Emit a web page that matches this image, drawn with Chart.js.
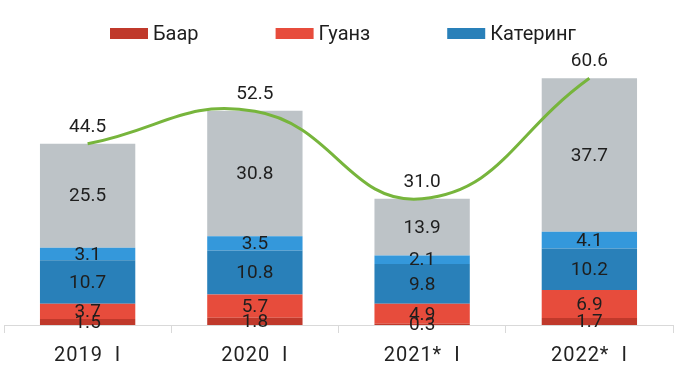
<!DOCTYPE html>
<html>
<head>
<meta charset="utf-8">
<script src="https://cdn.jsdelivr.net/npm/chart.js@4/dist/chart.umd.min.js"></script>
<style>
html,body{margin:0;padding:0;background:#fff;}
#wrap{width:676px;height:368px;position:relative;}
</style>
</head>
<body>
<div id="wrap"><canvas id="c" width="676" height="368"></canvas></div>
<script>
const categories = ["2019  I", "2020  I", "2021*  I", "2022*  I"];
const baar      = [1.5, 1.8, 0.3, 1.7];
const guanz     = [3.7, 5.7, 4.9, 6.9];
const catering  = [10.7, 10.8, 9.8, 10.2];
const otherBlue = [3.1, 3.5, 2.1, 4.1];
const otherGrey = [25.5, 30.8, 13.9, 37.7];
const totals    = [44.5, 52.5, 31.0, 60.6];
const legendNames = ["Баар", "Гуанз", "Катеринг"];

const FONT = "Roboto, 'Noto Sans', sans-serif";

const spacingPlugin = {
  id: 'tickSpacing',
  beforeDraw(chart) { chart.ctx.letterSpacing = '1px'; },
  beforeDatasetsDraw(chart) { chart.ctx.letterSpacing = '0px'; }
};

const labelPlugin = {
  id: 'valueLabels',
  afterDatasetsDraw(chart) {
    const ctx = chart.ctx;
    ctx.save();
    ctx.letterSpacing = '0px';
    ctx.font = "19px " + FONT;
    ctx.fillStyle = "#1e1e1e";
    ctx.textAlign = "center";
    ctx.textBaseline = "middle";
    chart.data.datasets.forEach((ds, i) => {
      const meta = chart.getDatasetMeta(i);
      meta.data.forEach((el, j) => {
        const v = ds.data[j];
        const txt = v.toFixed(1);
        if (ds.type === 'line') {
          ctx.fillText(txt, el.x, el.y - 17);
        } else {
          ctx.fillText(txt, el.x, (el.y + el.base) / 2 + 1);
        }
      });
    });
    ctx.restore();
  }
};

const legendPlugin = {
  id: 'customLegend',
  afterDraw(chart) {
    const ctx = chart.ctx;
    ctx.save();
    ctx.letterSpacing = '0px';
    ctx.font = "20px " + FONT;
    ctx.textBaseline = "middle";
    ctx.textAlign = "left";
    const boxW = 38, boxH = 11, gapText = 5, gapItem = 77;
    const items = legendNames.map((n, i) => ({
      name: n, color: chart.data.datasets[i].backgroundColor,
      w: boxW + gapText + ctx.measureText(n).width
    }));
    let x = 110;
    const yc = 33.5;
    items.forEach(it => {
      ctx.fillStyle = it.color;
      ctx.fillRect(x, yc - boxH / 2, boxW, boxH);
      ctx.fillStyle = "#1e1e1e";
      ctx.fillText(it.name, x + boxW + gapText, yc + 1);
      x += it.w + gapItem;
    });
    ctx.restore();
  }
};

new Chart(document.getElementById('c'), {
  data: {
    labels: categories,
    datasets: [
      { type: 'bar', label: 'Баар', data: baar, backgroundColor: '#c0392b', order: 1 },
      { type: 'bar', label: 'Гуанз', data: guanz, backgroundColor: '#e74c3c', order: 1 },
      { type: 'bar', label: 'Катеринг', data: catering, backgroundColor: '#2980b9', order: 1 },
      { type: 'bar', label: 'other1', data: otherBlue, backgroundColor: '#3498db', order: 1 },
      { type: 'bar', label: 'other2', data: otherGrey, backgroundColor: '#bdc3c7', order: 1 },
      { type: 'line', label: 'total', data: totals, borderColor: '#77b53c', borderWidth: 3,
        pointRadius: 0, tension: 0.45, fill: false, order: 0 }
    ]
  },
  options: {
    responsive: false,
    animation: false,
    layout: { padding: { top: 40, left: 4, right: 3, bottom: 0 } },
    plugins: { legend: { display: false }, tooltip: { enabled: false } },
    datasets: { bar: { categoryPercentage: 1.0, barPercentage: 0.57, borderWidth: 0 } },
    scales: {
      x: {
        stacked: true,
        offset: true,
        afterFit(scale) { scale.height = 43; },
        grid: { offset: true, drawOnChartArea: false, drawTicks: true, tickLength: 8, color: '#d9d9d9' },
        border: { color: '#d9d9d9', width: 1 },
        ticks: { color: '#222222', font: { family: FONT, size: 20, lineHeight: 1.2 }, padding: 11, maxRotation: 0 }
      },
      y: {
        stacked: true,
        display: false,
        min: 0,
        max: 70
      }
    }
  },
  plugins: [spacingPlugin, labelPlugin, legendPlugin]
});
</script>
</body>
</html>
